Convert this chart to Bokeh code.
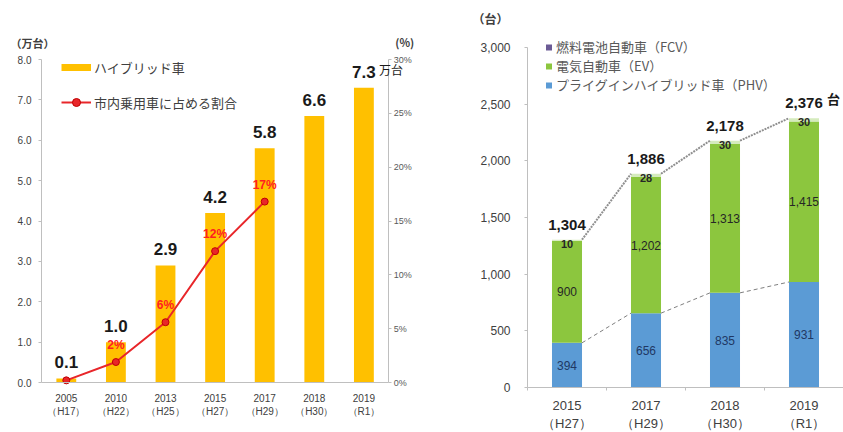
from bokeh.plotting import figure
from bokeh.models import (Range1d, LinearAxis, ColumnDataSource, LabelSet, Label,
                          Legend, LegendItem, FixedTicker, NumeralTickFormatter, PrintfTickFormatter)
from bokeh.layouts import row
from bokeh.embed import file_html
from bokeh.resources import INLINE
from bokeh.core.properties import value

# ---------------- data: left chart (hybrid cars) ----------------
hv_years = ["2005\n（H17）", "2010\n（H22）", "2013\n（H25）", "2015\n（H27）",
            "2017\n（H29）", "2018\n（H30）", "2019\n（R1）"]
hybrid = [0.1, 1.0, 2.9, 4.2, 5.8, 6.6, 7.3]          # 万台
share = [0.2, 1.9, 5.6, 12.2, 16.8]                    # % (2005-2017)
left_ticks = [0, 1, 2, 3, 4, 5, 6, 7, 8]
pct_ticks = [0, 5, 10, 15, 20, 25, 30]

# ---------------- data: right chart (PHV / EV / FCV) ----------------
ev_years = ["2015\n（H27）", "2017\n（H29）", "2018\n（H30）", "2019\n（R1）"]
phv = [394, 656, 835, 931]
ev = [900, 1202, 1313, 1415]
fcv = [10, 28, 30, 30]
right_ticks = [0, 500, 1000, 1500, 2000, 2500, 3000]

NUM = "Liberation Sans"
JP = "Noto Sans CJK JP"
GRAY = "#404040"
YEL = "#FFC000"
RED = "#E8262A"
BLUE = "#5B9BD5"
GREEN = "#8CC63E"
LGREEN = "#D5EBBD"
PURPLE = "#6B5B95"
NAN = float("nan")

H = 432


def ranges(fig_w, x0_px, cat_px, ymax, y0_px, ytop_px):
    """Data ranges so that the frame fills the figure; positions given in figure pixels."""
    xr = Range1d(-x0_px / cat_px, (fig_w - x0_px) / cat_px)
    upp = ymax / (y0_px - ytop_px)
    yr = Range1d(-(H - y0_px) * upp, ymax + ytop_px * upp)
    return xr, yr


def style_axis(ax, size):
    ax.axis_line_color = "#BFBFBF"
    ax.major_tick_line_color = "#BFBFBF"
    ax.major_tick_out = 3
    ax.major_tick_in = 0
    ax.minor_tick_line_color = None
    ax.major_label_text_font = NUM
    ax.major_label_text_font_size = size
    ax.major_label_text_color = GRAY


def new_fig(w, xr, yr):
    p = figure(x_range=xr, y_range=yr, width=w, height=H,
               min_border=0, output_backend="svg", toolbar_location=None)
    p.outline_line_color = None
    p.xgrid.visible = False
    p.ygrid.visible = False
    return p


# ================= left figure =================
W1 = 446
n1 = len(hv_years)
xr1, yr1 = ranges(W1, 41, 49.6, 8, 382, 59)
p1 = new_fig(W1, xr1, yr1)
p1.extra_y_ranges = {"pct": Range1d(yr1.start * 30 / 8, yr1.end * 30 / 8)}

hx = [i + 0.5 for i in range(n1)]
sx = hx[:len(share)]

yax = p1.yaxis[0]
style_axis(yax, "10px")
yax.ticker = FixedTicker(ticks=left_ticks)
yax.formatter = NumeralTickFormatter(format="0.0")
yax.fixed_location = 0
yax.bounds = (0, 8)
yax.major_label_standoff = 7

xax = p1.xaxis[0]
style_axis(xax, "10px")
xax.ticker = FixedTicker(ticks=hx)
xax.major_label_overrides = {x: lab for x, lab in zip(hx, hv_years)}
xax.major_tick_line_color = None
xax.fixed_location = 0
xax.bounds = (0, n1)
xax.major_label_standoff = 7

pct_axis = LinearAxis(y_range_name="pct", ticker=FixedTicker(ticks=pct_ticks),
                      formatter=PrintfTickFormatter(format="%d%%"))
style_axis(pct_axis, "9px")
pct_axis.major_label_text_color = "#595959"
pct_axis.fixed_location = n1
pct_axis.bounds = (0, 30)
pct_axis.major_label_standoff = 2
p1.add_layout(pct_axis, "right")

bars1 = p1.vbar(x=hx, top=hybrid, width=0.4, fill_color=YEL, line_color=None)

share_src = ColumnDataSource(dict(
    x=sx, y=share,
    t=[(f"{round(v)}%" if round(v) > 0 else "") for v in share]))
line_r = p1.line(x="x", y="y", source=share_src, y_range_name="pct",
                 line_color=RED, line_width=2)
dots_r = p1.scatter(x="x", y="y", source=share_src, y_range_name="pct", size=7,
                    fill_color=RED, line_color="#C00000")
p1.add_layout(LabelSet(x="x", y="y", text="t", source=share_src, y_range_name="pct",
                       y_offset=17, text_align="center", text_baseline="middle",
                       text_font=value(NUM), text_font_size=value("12px"),
                       text_font_style="bold", text_color="#FF2020"))

hv_src = ColumnDataSource(dict(x=hx, y=hybrid, t=[f"{v:.1f}" for v in hybrid]))
p1.add_layout(LabelSet(x="x", y="y", text="t", source=hv_src, y_offset=10,
                       text_align="center", text_baseline="bottom",
                       text_font=value(NUM), text_font_size=value("17px"),
                       text_font_style="bold", text_color="#1A1A1A"))
p1.add_layout(Label(x=hx[-1], y=hybrid[-1], text="万台", x_offset=15, y_offset=10,
                    text_align="left", text_baseline="bottom", text_font=JP,
                    text_font_size="12px", text_color="#1A1A1A"))

p1.add_layout(Label(x=0, y=8, text="（万台）", x_offset=-31, y_offset=17,
                    text_align="left", text_baseline="middle", text_font=JP,
                    text_font_size="11px", text_font_style="bold", text_color=GRAY))
p1.add_layout(Label(x=n1, y=8, text="(%)", x_offset=16, y_offset=18,
                    text_align="center", text_baseline="middle", text_font=JP,
                    text_font_size="11px", text_font_style="bold", text_color=GRAY))

proxy_bar = p1.line(x=[NAN, NAN], y=[NAN, NAN], line_color=YEL, line_width=7)
leg1 = Legend(items=[LegendItem(label="ハイブリッド車", renderers=[proxy_bar]),
                     LegendItem(label="市内乗用車に占める割合", renderers=[line_r, dots_r])],
              location=(61, H - 112), glyph_width=30, glyph_height=20, label_height=20,
              spacing=15, padding=0, margin=0, border_line_color=None,
              background_fill_alpha=0, label_text_font=JP, label_text_font_size="13px",
              label_text_color=GRAY, label_standoff=3)
p1.add_layout(leg1)

# ================= right figure =================
W2 = 397
n2 = len(ev_years)
xr2, yr2 = ranges(W2, 81, 79, 3000, 387, 47)
p2 = new_fig(W2, xr2, yr2)

ex = [i + 0.5 for i in range(n2)]
totals = [a + b + c for a, b, c in zip(phv, ev, fcv)]
BW = 0.38
src2 = ColumnDataSource(dict(
    x=ex, phv=phv, ev=ev, fcv=fcv, total=totals,
    phv_mid=[a / 2 for a in phv], ev_mid=[a + b / 2 for a, b in zip(phv, ev)],
    phv_t=[f"{a:,}" for a in phv], ev_t=[f"{b:,}" for b in ev],
    fcv_t=[f"{c:,}" for c in fcv], tot_t=[f"{t:,}" for t in totals]))

yax2 = p2.yaxis[0]
style_axis(yax2, "12px")
yax2.ticker = FixedTicker(ticks=right_ticks)
yax2.formatter = NumeralTickFormatter(format="0,0")
yax2.fixed_location = 0
yax2.bounds = (0, 3000)
yax2.major_label_standoff = 14

xax2 = p2.xaxis[0]
style_axis(xax2, "13px")
xax2.ticker = FixedTicker(ticks=ex, minor_ticks=list(range(n2 + 1)))
xax2.major_label_overrides = {x: lab for x, lab in zip(ex, ev_years)}
xax2.major_tick_line_color = None
xax2.minor_tick_line_color = "#BFBFBF"
xax2.minor_tick_out = 3
xax2.minor_tick_in = 0
xax2.fixed_location = 0
xax2.bounds = (0, n2)
xax2.major_label_standoff = 7

p2.vbar_stack(["phv", "ev", "fcv"], x="x", width=BW, source=src2,
              fill_color=[BLUE, GREEN, LGREEN], line_color=None)

seg_x0 = [x + BW / 2 for x in ex[:-1]]
seg_x1 = [x - BW / 2 for x in ex[1:]]
p2.segment(x0=seg_x0, y0=totals[:-1], x1=seg_x1, y1=totals[1:],
           line_color="#8F8F8F", line_width=2, line_dash="2 1")
p2.segment(x0=seg_x0, y0=phv[:-1], x1=seg_x1, y1=phv[1:],
           line_color="#7F7F7F", line_width=1, line_dash="4 3")

p2.add_layout(LabelSet(x="x", y="phv_mid", text="phv_t", source=src2,
                       text_align="center", text_baseline="middle",
                       text_font=value(NUM), text_font_size=value("12px"),
                       text_color="#1F3864"))
p2.add_layout(LabelSet(x="x", y="ev_mid", text="ev_t", source=src2,
                       text_align="center", text_baseline="middle",
                       text_font=value(NUM), text_font_size=value("12px"),
                       text_color="#262626"))
p2.add_layout(LabelSet(x="x", y="total", text="fcv_t", source=src2, y_offset=-4,
                       text_align="center", text_baseline="middle",
                       text_font=value(NUM), text_font_size=value("11px"),
                       text_font_style="bold", text_color="#262626"))
p2.add_layout(LabelSet(x="x", y="total", text="tot_t", source=src2, y_offset=10,
                       text_align="center", text_baseline="bottom",
                       text_font=value(NUM), text_font_size=value("15px"),
                       text_font_style="bold", text_color="#1A1A1A"))
p2.add_layout(Label(x=ex[-1], y=totals[-1], text="台", x_offset=23, y_offset=10,
                    text_align="left", text_baseline="bottom", text_font=JP,
                    text_font_size="13px", text_font_style="bold", text_color="#1A1A1A"))
p2.add_layout(Label(x=0, y=3000, text="（台）", x_offset=-37, y_offset=29,
                    text_align="center", text_baseline="middle", text_font=JP,
                    text_font_size="12px", text_font_style="bold", text_color=GRAY))

leg_fcv = p2.scatter(x=[NAN], y=[NAN], marker="square", size=6, fill_color=PURPLE, line_color=None)
leg_ev = p2.scatter(x=[NAN], y=[NAN], marker="square", size=6, fill_color=GREEN, line_color=None)
leg_phv = p2.scatter(x=[NAN], y=[NAN], marker="square", size=6, fill_color=BLUE, line_color=None)
leg2 = Legend(items=[LegendItem(label="燃料電池自動車（FCV）", renderers=[leg_fcv]),
                     LegendItem(label="電気自動車（EV）", renderers=[leg_ev]),
                     LegendItem(label="プライグインハイブリッド車（PHV）", renderers=[leg_phv])],
              location=(95, H - 94), glyph_width=15, glyph_height=18, label_height=18,
              spacing=0, padding=0, margin=0, border_line_color=None,
              background_fill_alpha=0, label_text_font=JP, label_text_font_size="13px",
              label_text_color="#595959", label_standoff=0)
p2.add_layout(leg2)

layout = row(p1, p2)
open("out.html", "w").write(file_html(layout, INLINE))
